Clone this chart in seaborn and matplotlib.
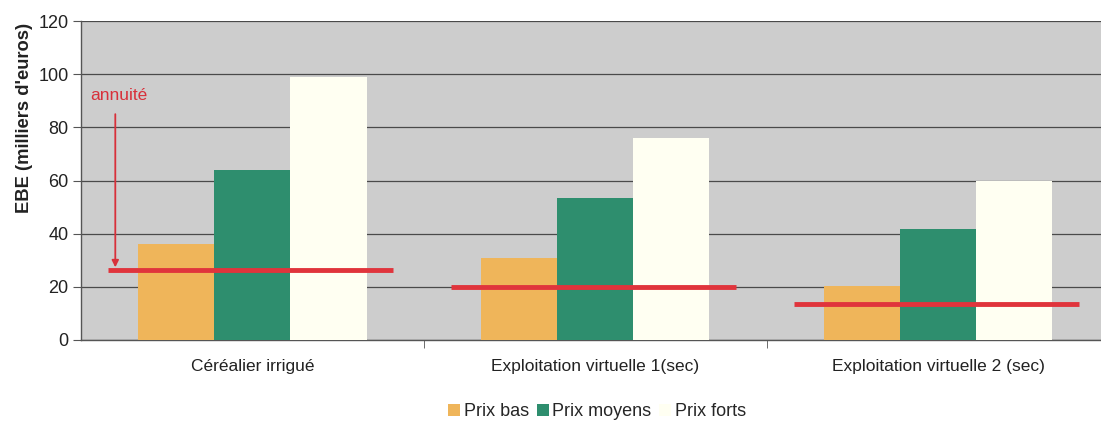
import matplotlib
matplotlib.use("Agg")
import matplotlib.pyplot as plt
import seaborn as sns
import pandas as pd
import numpy as np

categories = ["Céréalier irrigué", "Exploitation virtuelle 1(sec)", "Exploitation virtuelle 2 (sec)"]
series_names = ["Prix bas", "Prix moyens", "Prix forts"]
prix_bas = [36, 31, 20.3]
prix_moyens = [64, 53.4, 41.7]
prix_forts = [99, 76, 60]
annuite = [26.3, 20, 13.5]
yticks = [0, 20, 40, 60, 80, 100, 120]

colors = ["#EFB55A", "#2E8E6E", "#FFFFF2"]

rows = []
for name, vals in zip(series_names, [prix_bas, prix_moyens, prix_forts]):
    for c, v in zip(categories, vals):
        rows.append({"cat": c, "serie": name, "val": v})
df = pd.DataFrame(rows)

sns.set_style("white")
plt.rcParams["font.family"] = ["Liberation Sans", "DejaVu Sans"]

fig = plt.figure(figsize=(11.01, 4.22), dpi=100)
ax = fig.add_axes([81/1101, 1 - 340/422, 1 - 81/1101, (340 - 21)/422])
ax.set_facecolor("#CDCDCD")

sns.barplot(data=df, x="cat", y="val", hue="serie", order=categories,
            hue_order=series_names, palette=colors, width=0.665, gap=0,
            saturation=1, ax=ax, legend=False, linewidth=0, zorder=3)

ax.set_ylim(0, 120)
ax.set_xlim(-0.5, 2.474)
ax.set_yticks(yticks)
ax.yaxis.grid(True, color="#4a4a4a", linewidth=0.9, zorder=0)
ax.set_axisbelow(True)
for sp in ["top", "right"]:
    ax.spines[sp].set_visible(False)
ax.spines["left"].set_color("#555555")
ax.spines["bottom"].set_color("#555555")
ax.spines["left"].set_linewidth(1)
ax.spines["bottom"].set_linewidth(1)

ax.tick_params(axis="y", left=True, length=6, color="#555555", labelsize=13, labelcolor="#222222", pad=3)
ax.set_xticks([0, 1, 2])
ax.set_xticklabels(categories, fontsize=12.5, color="#222222")
ax.tick_params(axis="x", bottom=False, pad=10)
ax.set_xticks([0.5, 1.5], minor=True)
ax.tick_params(axis="x", which="minor", bottom=True, length=6, color="#555555")
ax.set_xlabel("")
ax.set_ylabel("EBE (milliers d'euros)", fontsize=13.2, fontweight="bold", color="#222222")
ax.yaxis.set_label_coords(-0.047, 0.695)

# annuity lines
for i, a in enumerate(annuite):
    ax.hlines(a, i - 0.42, i + 0.41, color="#E0343C", linewidth=3.5, zorder=5)

ax.annotate("", xy=(-0.40, annuite[0]), xytext=(-0.40, 86),
            arrowprops=dict(arrowstyle="-|>", color="#D8303A", lw=1.3, mutation_scale=10), zorder=6)
ax.text(-0.474, 92, "annuité", color="#D8303A", fontsize=12.5, ha="left", va="center", zorder=6)

handles = [plt.Rectangle((0, 0), 1, 1, facecolor=c, edgecolor="none") for c in colors]
fig.legend(handles, series_names, loc="center", bbox_to_anchor=(597/1101, 1 - 412/422),
           ncol=3, frameon=False, fontsize=13, handlelength=0.65, handleheight=0.65,
           handletextpad=0.2, columnspacing=0.45)

fig.savefig("out.png", dpi=100)
